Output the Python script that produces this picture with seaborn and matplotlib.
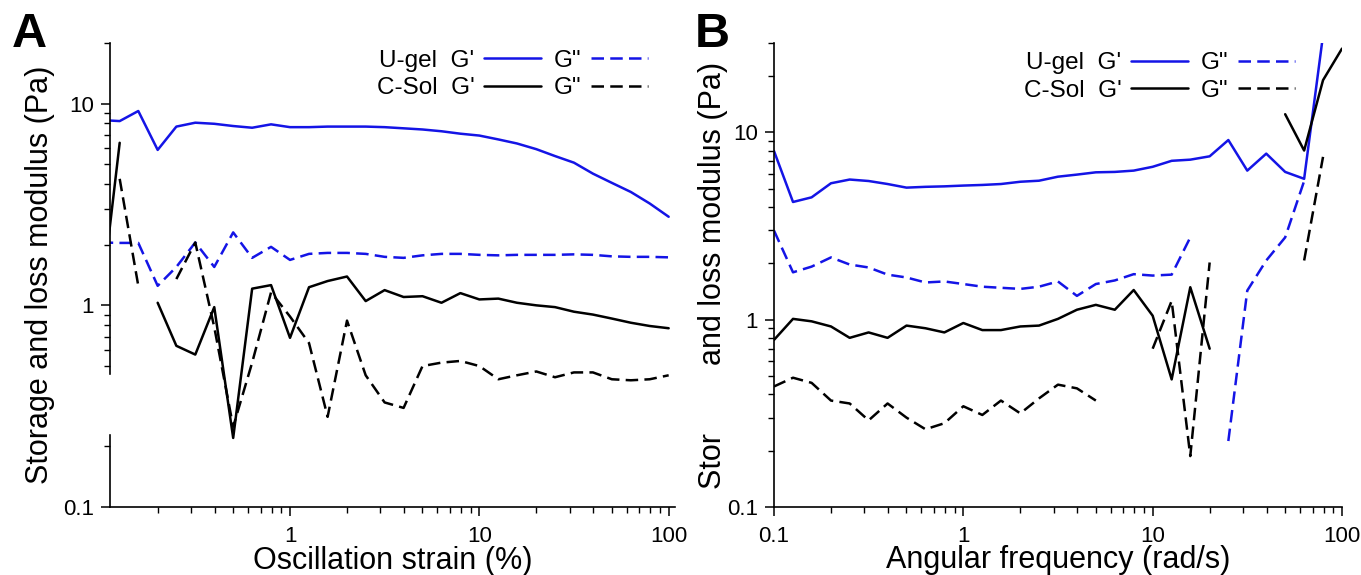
import numpy as np
import pandas as pd
import matplotlib
matplotlib.use("Agg")
import matplotlib.pyplot as plt
from matplotlib import ticker
from matplotlib.lines import Line2D
from matplotlib.patches import Rectangle
import seaborn as sns

nan = np.nan

# --- A: strain sweep (%), values in Pa ---
strain = [0.1, 0.126, 0.158, 0.2, 0.251, 0.316, 0.398, 0.501, 0.631, 0.794,
          1, 1.26, 1.58, 2, 2.51, 3.16, 3.98, 5.01, 6.31, 7.94,
          10, 12.6, 15.8, 20, 25.1, 31.6, 39.8, 50.1, 63.1, 79.4, 100]
ugel_g1_a = [8.3, 8.2, 9.2, 5.9, 7.7, 8.05, 7.95, 7.75, 7.6, 7.9,
             7.65, 7.65, 7.7, 7.7, 7.7, 7.65, 7.55, 7.45, 7.3, 7.1,
             6.95, 6.65, 6.35, 5.95, 5.5, 5.1, 4.5, 4.05, 3.65, 3.2, 2.75]
ugel_g2_a = [2.05, 2.04, 2.04, 1.25, 1.55, 2.05, 1.55, 2.3, 1.72, 1.95,
             1.68, 1.8, 1.82, 1.82, 1.8, 1.74, 1.72, 1.77, 1.8, 1.8,
             1.78, 1.77, 1.78, 1.78, 1.78, 1.79, 1.78, 1.75, 1.74, 1.74, 1.73]
csol_g1_a = [1.0, 6.4, nan, 1.03, 0.63, 0.57, 0.98, 0.22, 1.21, 1.26,
             0.69, 1.23, 1.32, 1.39, 1.05, 1.19, 1.1, 1.11, 1.03, 1.15,
             1.07, 1.08, 1.03, 1.0, 0.98, 0.93, 0.9, 0.86, 0.82, 0.79, 0.77]
csol_g2_a = [nan, 4.24, 1.25, nan, 1.35, 2.05, 0.78, 0.25, 0.52, 1.16,
             0.88, 0.65, 0.28, 0.84, 0.45, 0.33, 0.31, 0.5, 0.52, 0.53,
             0.5, 0.43, 0.45, 0.47, 0.44, 0.465, 0.465, 0.43, 0.425, 0.43, 0.45]

# --- B: frequency sweep (rad/s), values in Pa ---
freq = [0.1, 0.126, 0.158, 0.2, 0.251, 0.316, 0.398, 0.501, 0.631, 0.794,
        1, 1.26, 1.58, 2, 2.51, 3.16, 3.98, 5.01, 6.31, 7.94,
        10, 12.6, 15.8, 20, 25.1, 31.6, 39.8, 50.1, 63.1, 79.4, 100]
ugel_g1_b = [7.95, 4.25, 4.5, 5.35, 5.6, 5.5, 5.3, 5.07, 5.12, 5.15,
             5.2, 5.24, 5.3, 5.45, 5.52, 5.8, 5.95, 6.12, 6.15, 6.25,
             6.55, 7.05, 7.15, 7.45, 9.1, 6.25, 7.7, 6.15, 5.65, 33, 45]
ugel_g2_b = [2.99, 1.79, 1.92, 2.15, 1.97, 1.9, 1.74, 1.68, 1.58, 1.6,
             1.55, 1.5, 1.48, 1.46, 1.5, 1.6, 1.34, 1.55, 1.62, 1.75,
             1.72, 1.74, 2.75, nan, 0.225, 1.43, 2.07, 2.75, 5.5, nan, 8.7]
csol_g1_b = [0.78, 1.01, 0.98, 0.92, 0.8, 0.855, 0.8, 0.93, 0.9, 0.855,
             0.96, 0.88, 0.88, 0.92, 0.93, 1.01, 1.13, 1.2, 1.13, 1.44,
             1.05, 0.48, 1.49, 0.7, nan, nan, nan, 12.5, 8.0, 19, 28]
csol_g2_b = [0.44, 0.49, 0.46, 0.37, 0.357, 0.29, 0.357, 0.3, 0.26, 0.28,
             0.345, 0.31, 0.37, 0.316, 0.38, 0.45, 0.43, 0.37, nan, nan,
             0.7, 1.26, 0.187, 2.02, nan, nan, nan, nan, 2.07, 7.4, nan]

BLUE = "#1414e6"
LW = 1.8
palette = {"U-gel": BLUE, "C-Sol": "black"}
dashes = {"G'": "", 'G"': (5, 2.5)}


def to_long(x, series):
    # gaps (nan) split a curve into separate units so they are not bridged
    rows = []
    for (sample, mod), y in series.items():
        seg = 0
        for xi, yi in zip(x, y):
            if np.isnan(yi):
                seg += 1
                continue
            rows.append({"x": xi, "y": yi, "sample": sample, "modulus": mod,
                         "unit": f"{sample}{mod}{seg}"})
    return pd.DataFrame(rows)


df_a = to_long(strain, {("U-gel", "G'"): ugel_g1_a, ("U-gel", 'G"'): ugel_g2_a,
                        ("C-Sol", "G'"): csol_g1_a, ("C-Sol", 'G"'): csol_g2_a})
df_b = to_long(freq, {("U-gel", "G'"): ugel_g1_b, ("U-gel", 'G"'): ugel_g2_b,
                      ("C-Sol", "G'"): csol_g1_b, ("C-Sol", 'G"'): csol_g2_b})

sns.set_theme(style="ticks")
plt.rcParams["font.family"] = ["Liberation Sans", "DejaVu Sans"]
plt.rcParams["axes.linewidth"] = 1.2
for key in ["text.color", "axes.labelcolor", "xtick.color", "ytick.color",
            "axes.edgecolor"]:
    plt.rcParams[key] = "black"

fig = plt.figure(figsize=(13.61, 5.75), dpi=100)
ax_a = fig.add_axes([110 / 1361, 68 / 575, 565 / 1361, 464 / 575])
ax_b = fig.add_axes([774 / 1361, 68 / 575, 568 / 1361, 464 / 575])

for ax, df in [(ax_a, df_a), (ax_b, df_b)]:
    sns.lineplot(data=df, x="x", y="y", hue="sample", style="modulus",
                 units="unit", estimator=None, sort=False, palette=palette,
                 dashes=dashes, linewidth=LW, legend=False, ax=ax)
    ax.set_xscale("log")
    ax.set_yscale("log")
    for side in ["top", "right"]:
        ax.spines[side].set_visible(False)
    fmt = ticker.FuncFormatter(lambda v, p: f"{v:g}")
    ax.xaxis.set_major_formatter(fmt)
    ax.yaxis.set_major_formatter(fmt)
    ax.xaxis.set_minor_formatter(ticker.NullFormatter())
    ax.yaxis.set_minor_formatter(ticker.NullFormatter())
    ax.tick_params(which="major", length=6.5, width=1.1, labelsize=16, pad=5)
    ax.tick_params(axis="x", which="major", pad=7)
    ax.tick_params(which="minor", length=4, width=1.0)

    handles = [Line2D([], [], color=BLUE, lw=LW),
               Line2D([], [], color="black", lw=LW),
               Line2D([], [], color=BLUE, lw=LW, dashes=(5, 2.5)),
               Line2D([], [], color="black", lw=LW, dashes=(5, 2.5))]
    labels = ["U-gel  G'", "C-Sol  G'", 'G"', 'G"']
    anchor = (0.952, 0.985) if ax is ax_a else (0.917, 0.98)
    ax.legend(handles, labels, ncol=2, markerfirst=False, frameon=False,
              loc="upper right", bbox_to_anchor=anchor, borderaxespad=0,
              borderpad=0, fontsize=17.5, handlelength=2.35,
              handletextpad=0.4, columnspacing=0.5, labelspacing=0.22)

ax_a.set_xlim(0.112, 108)
ax_a.set_ylim(0.1, 20)
ax_b.set_xlim(0.1, 100)
ax_b.set_ylim(0.1, 30)

ax_a.set_xlabel("Oscillation strain (%)", fontsize=22)
ax_b.set_xlabel("Angular frequency (rad/s)", fontsize=22)
ax_a.set_ylabel("Storage and loss modulus (Pa)", fontsize=22)
ax_b.set_ylabel("Stor" + " " * 7 + " and loss modulus (Pa)", fontsize=22)
ax_a.xaxis.set_label_coords(0.5, -0.085)
ax_b.xaxis.set_label_coords(0.5, -0.082)
ax_a.yaxis.set_label_coords(-0.098, 0.5)
ax_b.yaxis.set_label_coords(-0.081, 0.5)

fig.text(12 / 1361, 1 - 12 / 575, "A", fontsize=35, fontweight="bold", va="top")
fig.text(695 / 1361, 1 - 12 / 575, "B", fontsize=35, fontweight="bold", va="top")

# break in the left spine of panel A
fig.add_artist(Rectangle((98 / 1361, (575 - 433) / 575), 17 / 1361, 58 / 575,
                         transform=fig.transFigure, color="white", zorder=10))

fig.savefig("out.png", dpi=100)
